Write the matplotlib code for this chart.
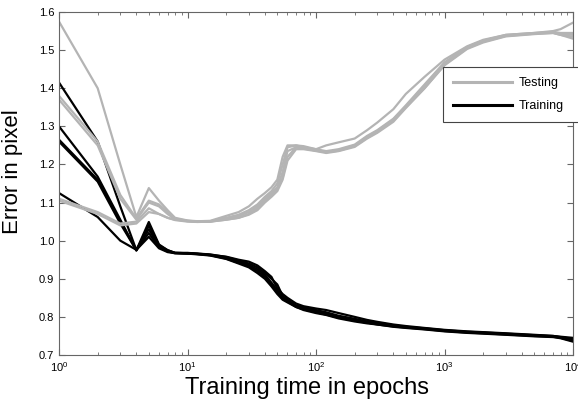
import matplotlib
matplotlib.use('Agg')
import matplotlib.pyplot as plt
from matplotlib.ticker import FormatStrFormatter, LogLocator, NullFormatter
import numpy as np

plt.rcParams['font.family'] = ['Liberation Sans', 'DejaVu Sans']

epochs = [1, 2, 3, 4, 5, 6, 7, 8, 10, 12, 15, 20, 25, 30, 35, 40, 45, 50, 55, 60,
          70, 80, 100, 120, 150, 200, 250, 300, 400, 500, 700, 1000, 1500, 2000,
          3000, 5000, 7000, 8000, 10000]

# testing error, 5 runs
test1 = [1.575, 1.40, 1.20, 1.062, 1.138, 1.105, 1.08, 1.06, 1.053, 1.051, 1.052, 1.065, 1.075, 1.09,
         1.11, 1.125, 1.14, 1.16, 1.22, 1.25, 1.25, 1.248, 1.24, 1.25, 1.258, 1.268, 1.29, 1.31,
         1.345, 1.385, 1.43, 1.475, 1.51, 1.527, 1.54, 1.545, 1.55, 1.555, 1.572]
test2 = [1.38, 1.26, 1.12, 1.058, 1.105, 1.095, 1.075, 1.058, 1.052, 1.05, 1.051, 1.06, 1.068, 1.08,
         1.095, 1.115, 1.13, 1.15, 1.20, 1.245, 1.25, 1.245, 1.24, 1.235, 1.24, 1.252, 1.275, 1.29,
         1.32, 1.355, 1.41, 1.468, 1.508, 1.525, 1.54, 1.545, 1.548, 1.545, 1.545]
test3 = [1.37, 1.25, 1.11, 1.055, 1.10, 1.09, 1.07, 1.056, 1.051, 1.05, 1.05, 1.058, 1.065, 1.075,
         1.09, 1.11, 1.125, 1.14, 1.18, 1.235, 1.245, 1.245, 1.238, 1.232, 1.238, 1.25, 1.272, 1.288,
         1.318, 1.352, 1.405, 1.465, 1.506, 1.524, 1.538, 1.544, 1.546, 1.542, 1.54]
test4 = [1.11, 1.075, 1.045, 1.05, 1.085, 1.07, 1.06, 1.055, 1.052, 1.05, 1.05, 1.055, 1.06, 1.07,
         1.085, 1.105, 1.12, 1.135, 1.165, 1.22, 1.245, 1.242, 1.236, 1.232, 1.236, 1.248, 1.27, 1.285,
         1.315, 1.35, 1.40, 1.462, 1.505, 1.522, 1.537, 1.543, 1.545, 1.54, 1.535]
test5 = [1.105, 1.07, 1.04, 1.045, 1.075, 1.07, 1.06, 1.054, 1.05, 1.049, 1.05, 1.055, 1.06, 1.068,
         1.08, 1.10, 1.115, 1.13, 1.16, 1.21, 1.24, 1.24, 1.235, 1.23, 1.235, 1.246, 1.268, 1.283,
         1.312, 1.348, 1.40, 1.46, 1.503, 1.52, 1.536, 1.542, 1.545, 1.54, 1.53]

# training error, 5 runs
train1 = [1.415, 1.26, 1.09, 0.975, 1.049, 0.99, 0.975, 0.968, 0.968, 0.966, 0.963, 0.958, 0.95, 0.945,
          0.935, 0.92, 0.905, 0.875, 0.86, 0.85, 0.835, 0.828, 0.822, 0.818, 0.81, 0.80, 0.792, 0.787,
          0.78, 0.776, 0.771, 0.766, 0.762, 0.76, 0.757, 0.753, 0.75, 0.748, 0.745]
train2 = [1.30, 1.168, 1.055, 0.974, 1.04, 0.988, 0.975, 0.968, 0.967, 0.966, 0.964, 0.957, 0.948, 0.94,
          0.93, 0.915, 0.90, 0.885, 0.855, 0.845, 0.83, 0.825, 0.818, 0.812, 0.803, 0.795, 0.788, 0.784,
          0.778, 0.774, 0.77, 0.765, 0.761, 0.759, 0.756, 0.752, 0.75, 0.747, 0.742]
train3 = [1.265, 1.16, 1.05, 0.976, 1.03, 0.985, 0.973, 0.968, 0.967, 0.965, 0.962, 0.955, 0.945, 0.936,
          0.925, 0.91, 0.89, 0.87, 0.85, 0.842, 0.828, 0.822, 0.815, 0.81, 0.80, 0.792, 0.785, 0.782,
          0.776, 0.773, 0.769, 0.764, 0.76, 0.758, 0.755, 0.751, 0.749, 0.746, 0.74]
train4 = [1.26, 1.155, 1.045, 0.975, 1.02, 0.982, 0.972, 0.967, 0.966, 0.965, 0.962, 0.953, 0.942, 0.933,
          0.92, 0.905, 0.885, 0.865, 0.848, 0.84, 0.826, 0.82, 0.812, 0.806, 0.798, 0.79, 0.785, 0.78,
          0.775, 0.772, 0.768, 0.763, 0.759, 0.757, 0.754, 0.75, 0.748, 0.745, 0.737]
train5 = [1.125, 1.062, 1.00, 0.976, 1.01, 0.98, 0.97, 0.967, 0.966, 0.964, 0.961, 0.952, 0.94, 0.93,
          0.915, 0.90, 0.88, 0.86, 0.845, 0.838, 0.826, 0.818, 0.81, 0.805, 0.796, 0.788, 0.783, 0.78,
          0.774, 0.771, 0.767, 0.762, 0.758, 0.756, 0.753, 0.749, 0.747, 0.744, 0.735]

tests = [test1, test2, test3, test4, test5]
trains = [train1, train2, train3, train4, train5]

fig = plt.figure(figsize=(5.78, 4.03), dpi=100)
ax = fig.add_axes([59/578, 1-355/403, 514/578, 343/403])

for i, t in enumerate(trains):
    ax.plot(epochs, t, color='black', lw=1.6, label='Training' if i == 0 else None)
for i, t in enumerate(tests):
    ax.plot(epochs, t, color='#b4b4b4', lw=1.6, label='Testing' if i == 0 else None)

ax.set_xscale('log')
ax.set_xlim(1, 10000)
ax.set_ylim(0.7, 1.6)
ax.set_yticks(np.arange(0.7, 1.61, 0.1))
ax.yaxis.set_major_formatter(FormatStrFormatter('%.1f'))
ax.xaxis.set_major_locator(LogLocator(base=10, numticks=10))
ax.xaxis.set_minor_locator(LogLocator(base=10, subs=np.arange(2, 10), numticks=100))
ax.xaxis.set_minor_formatter(NullFormatter())

for s in ax.spines.values():
    s.set_color('#666666')
    s.set_linewidth(0.8)
ax.tick_params(which='both', direction='in', top=True, right=True, color='#666666', labelsize=8)
ax.tick_params(which='major', length=4)
ax.tick_params(which='minor', length=2.5)

ax.set_xlabel('Training time in epochs', fontsize=17)
ax.set_ylabel('Error in pixel', fontsize=16)
ax.xaxis.set_label_coords(0.483, -0.064)
ax.yaxis.set_label_coords(-0.07, 0.534)

# legend box runs past the right edge of the figure, as in the original
h, l = ax.get_legend_handles_labels()
order = [l.index('Testing'), l.index('Training')]
leg = ax.legend([h[k] for k in order], [l[k] for k in order], loc='upper left',
                bbox_to_anchor=(0.747, 0.84, 0.29, 0.0), mode='expand', fontsize=9,
                fancybox=False, handlelength=4.75, handletextpad=0.5, labelspacing=0.9,
                borderpad=0.8, borderaxespad=0, framealpha=1)
leg.get_frame().set_edgecolor('#444444')
leg.get_frame().set_linewidth(0.8)
for ln in leg.get_lines():
    ln.set_linewidth(2.2)

fig.savefig('out.png', dpi=100)
